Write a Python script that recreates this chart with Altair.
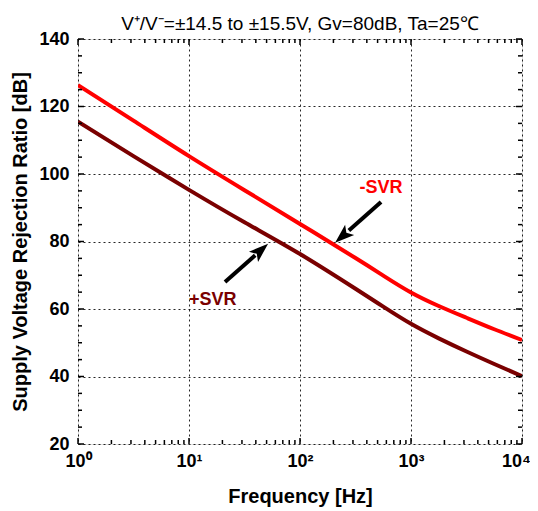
import math
import altair as alt
import pandas as pd

# ---- data ----
freq = [1, 3.162, 10, 31.62, 100, 316.2, 562.3, 1000, 1778, 3162, 5623, 10000]
neg_svr = [126.3, 115.8, 105.3, 95.2, 85.2, 75.1, 69.9, 64.9, 60.9, 57.4, 54.0, 50.8]
pos_svr = [115.5, 105.3, 95.3, 85.7, 76.3, 66.0, 60.7, 55.6, 51.3, 47.4, 43.7, 40.1]

x_major = [1, 10, 100, 1000, 10000]
x_minor = [m * d for d in [1, 10, 100, 1000] for m in range(2, 10)]
y_major = [20, 40, 60, 80, 100, 120, 140]
y_minor = [25, 30, 35, 45, 50, 55, 65, 70, 75, 85, 90, 95, 105, 110, 115, 125, 130, 135]

# annotations (freq, dB)
ann_text = ["-SVR", "+SVR"]
ann_color = ["#ff0000", "#7a0000"]
ann_pos = [(537, 96.0), (16.4, 62.6)]
arrow_tail = [(537, 91.7), (21.1, 68.0)]
arrow_tip = [(207, 79.6), (51.6, 79.3)]

W, H = 444, 405
FONT = "Liberation Sans"

xs = alt.Scale(type="log", domain=[1, 10000])
ys = alt.Scale(domain=[20, 140])

def px(f, v):
    return (math.log10(f) / 4 * W, (140 - v) / 120 * H)

rows = []
for name, vals in [("-SVR", neg_svr), ("+SVR", pos_svr)]:
    for f, v in zip(freq, vals):
        rows.append({"f": f, "v": v, "s": name})
df = pd.DataFrame(rows)

lines = alt.Chart(df).mark_line(strokeWidth=4, interpolate="natural", clip=True).encode(
    x=alt.X("f:Q", scale=xs,
            axis=alt.Axis(values=x_major, grid=True, gridDash=[2, 3], gridColor="#000",
                          gridWidth=1, gridOpacity=0.85, ticks=False, domain=False,
                          labelExpr="{'1':'10⁰','10':'10¹','100':'10²','1000':'10³','10000':'10⁴'}[datum.value+'']",
                          labelFont=FONT, labelFontSize=18, labelFontWeight="bold",
                          labelColor="#000", labelPadding=8, labelFlush=False,
                          labelOverlap=False,
                          labelOffset=alt.ExprRef(expr="datum.value == 10000 ? -6 : 0"),
                          title="Frequency [Hz]", titleFont=FONT, titleFontSize=20,
                          titleFontWeight="bold", titleColor="#000", titlePadding=16)),
    y=alt.Y("v:Q", scale=ys,
            axis=alt.Axis(values=y_major, grid=True, gridDash=[2, 3], gridColor="#000",
                          gridWidth=1, gridOpacity=0.85, ticks=False, domain=False,
                          labelFont=FONT, labelFontSize=18, labelFontWeight="bold",
                          labelColor="#000", labelPadding=9, labelFlush=False,
                          title="Supply Voltage Rejection Ratio [dB]", titleFont=FONT,
                          titleFontSize=20, titleFontWeight="bold", titleColor="#000",
                          titlePadding=8)),
    color=alt.Color("s:N", scale=alt.Scale(domain=["-SVR", "+SVR"], range=["#ff0000", "#7a0000"]),
                    legend=None),
    detail="s:N",
)

# inward ticks
TL, TS = 6, 4
def ytick_layer(vals, length):
    d = pd.DataFrame({"v": vals})
    left = alt.Chart(d).mark_rule(color="#000", strokeWidth=1.5).encode(
        y=alt.Y("v:Q", scale=ys), x=alt.value(0), x2=alt.value(length))
    right = alt.Chart(d).mark_rule(color="#000", strokeWidth=1.5).encode(
        y=alt.Y("v:Q", scale=ys), x=alt.value(W - length), x2=alt.value(W))
    return [left, right]

def xtick_layer(vals, length):
    d = pd.DataFrame({"f": vals})
    bot = alt.Chart(d).mark_rule(color="#000", strokeWidth=1.5).encode(
        x=alt.X("f:Q", scale=xs), y=alt.value(H - length), y2=alt.value(H))
    top = alt.Chart(d).mark_rule(color="#000", strokeWidth=1.5).encode(
        x=alt.X("f:Q", scale=xs), y=alt.value(0), y2=alt.value(length))
    return [bot, top]

ticks = (ytick_layer(y_major, TL) + ytick_layer(y_minor, TS)
         + xtick_layer(x_major, TL) + xtick_layer(x_minor, TS))

# arrows
arr_rows, head_rows = [], []
for (tf, tv), (hf, hv) in zip(arrow_tail, arrow_tip):
    x0, y0 = px(tf, tv)
    x1, y1 = px(hf, hv)
    ang = math.degrees(math.atan2(x1 - x0, -(y1 - y0))) % 360
    t = 0.7
    sf = 10 ** (math.log10(tf) + t * (math.log10(hf) - math.log10(tf)))
    sv = tv + t * (hv - tv)
    arr_rows.append({"f": tf, "v": tv, "f2": sf, "v2": sv})
    head_rows.append({"f": hf, "v": hv, "a": ang})

shaft = alt.Chart(pd.DataFrame(arr_rows)).mark_rule(color="#000", strokeWidth=4).encode(
    x=alt.X("f:Q", scale=xs), y=alt.Y("v:Q", scale=ys), x2="f2:Q", y2="v2:Q")
heads = alt.Chart(pd.DataFrame(head_rows)).mark_point(
    shape="M0,0 L0.7,2 L0,1.55 L-0.7,2 Z", filled=True, color="#000", opacity=1, size=380
).encode(x=alt.X("f:Q", scale=xs), y=alt.Y("v:Q", scale=ys), angle=alt.Angle("a:Q", scale=None))

ann_df = pd.DataFrame({"t": ann_text, "c": ann_color,
                       "f": [p[0] for p in ann_pos], "v": [p[1] for p in ann_pos]})
labels = alt.Chart(ann_df).mark_text(font=FONT, fontSize=18, fontWeight="bold").encode(
    x=alt.X("f:Q", scale=xs), y=alt.Y("v:Q", scale=ys), text="t:N",
    color=alt.Color("c:N", scale=None))

chart = alt.layer(lines, *ticks, shaft, heads, labels).properties(
    width=W, height=H,
    title=alt.TitleParams("V⁺/V⁻=±14.5 to ±15.5V, Gv=80dB, Ta=25℃", font=FONT, fontSize=19,
                          fontWeight="normal", color="#000", anchor="middle", offset=-4,
                          frame="group"),
    autosize=alt.AutoSizeParams(type="none"),
    padding={"left": 70, "top": 31, "right": 8, "bottom": 64},
).configure_view(stroke="#000", strokeWidth=3).configure(background="white")

chart.save("out.html", embed_options={"renderer": "svg", "actions": False})
